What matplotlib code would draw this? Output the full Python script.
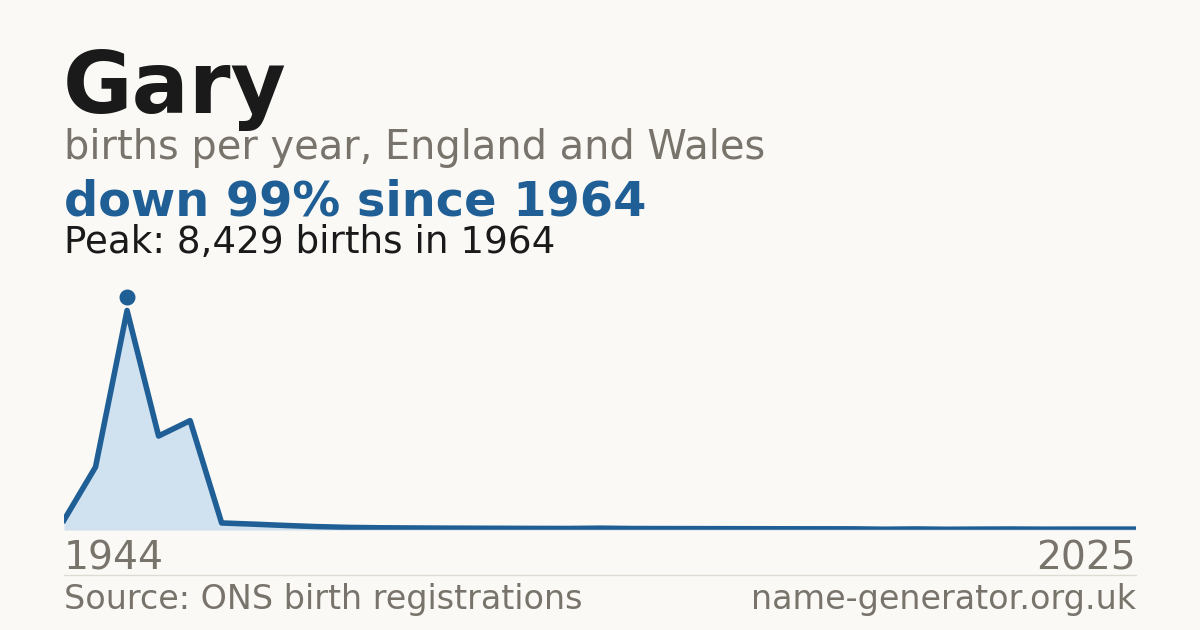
import matplotlib
matplotlib.use('Agg')
import matplotlib.pyplot as plt
import matplotlib.transforms as mtransforms

plt.rcParams['font.family'] = ['DejaVu Sans']

# ------------------------------------------------------------
# Data: births per year for "Gary", England and Wales
# ------------------------------------------------------------
years = [1944, 1954, 1964, 1974, 1984] + list(range(1996, 2026))
births = [380, 2420, 8429, 3610, 4200,
          270, 225, 175, 130, 100, 85, 78, 72, 68, 64,
          60, 58, 70, 56, 54, 52, 50, 48, 46, 45,
          44, 30, 40, 28, 34, 38, 32, 34, 34, 34]
peak_year = 1964
peak_value = 8429
name = 'Gary'
subtitle = 'births per year, England and Wales'
headline = 'down 99% since 1964'
peak_text = 'Peak: 8,429 births in 1964'
source_text = 'Source: ONS birth registrations'
site_text = 'name-generator.org.uk'

BG = '#faf9f5'
BLUE = '#1f5f96'
FILL = '#d0e1f0'
GREY = '#78736b'
DARK = '#1a1a1a'
RULE = '#dedbd4'

W, H = 1200, 630
fig = plt.figure(figsize=(W / 100, H / 100), dpi=100, facecolor=BG)


def fx(px):
    return px / W


def fy(py):
    return 1 - py / H


# plot area: x 64..1136, zero line at y=530 px
ax_h = 240
ax = fig.add_axes([fx(64), (H - 530) / H, (1136 - 64) / W, ax_h / H])
ax.set_facecolor(BG)
idx = list(range(len(years)))
ax.fill_between(idx, births, 0, color=FILL, lw=0, zorder=1)
ax.plot(idx, births, color=BLUE, lw=4.0, zorder=3)
ax.axhline(0, color=RULE, lw=1, zorder=4)
pk = years.index(peak_year)
off = mtransforms.offset_copy(ax.transData, fig=fig, y=14, units='dots')
ax.plot([pk], [births[pk]], 'o', color=BLUE, ms=10.5, transform=off, zorder=5, clip_on=False)
ax.set_xlim(0, len(years) - 1)
ax.set_ylim(0, peak_value * ax_h / 219.5)
ax.axis('off')

# ------------------------------------------------------------
# Texts
# ------------------------------------------------------------
fig.text(fx(63), fy(113), name, fontsize=61, fontweight='bold', color=DARK, va='baseline')
fig.text(fx(64), fy(159), subtitle, fontsize=28.7, color=GREY, va='baseline')
fig.text(fx(64), fy(215), headline, fontsize=34.5, fontweight='bold', color=BLUE, va='baseline')
fig.text(fx(64), fy(253), peak_text, fontsize=26.8, color=DARK, va='baseline')
fig.text(fx(64), fy(570), str(years[0]), fontsize=28.3, color=GREY, va='baseline')
fig.text(fx(1136), fy(570), str(years[-1]), fontsize=28.3, color=GREY, va='baseline', ha='right')
fig.add_artist(plt.Line2D([fx(64), fx(1136)], [fy(574.5), fy(574.5)], color=RULE, lw=1))
fig.text(fx(64), fy(609), source_text, fontsize=24, color=GREY, va='baseline')
fig.text(fx(1136), fy(609), site_text, fontsize=24, color=GREY, va='baseline', ha='right')

fig.savefig('out.png', dpi=100, facecolor=BG)
